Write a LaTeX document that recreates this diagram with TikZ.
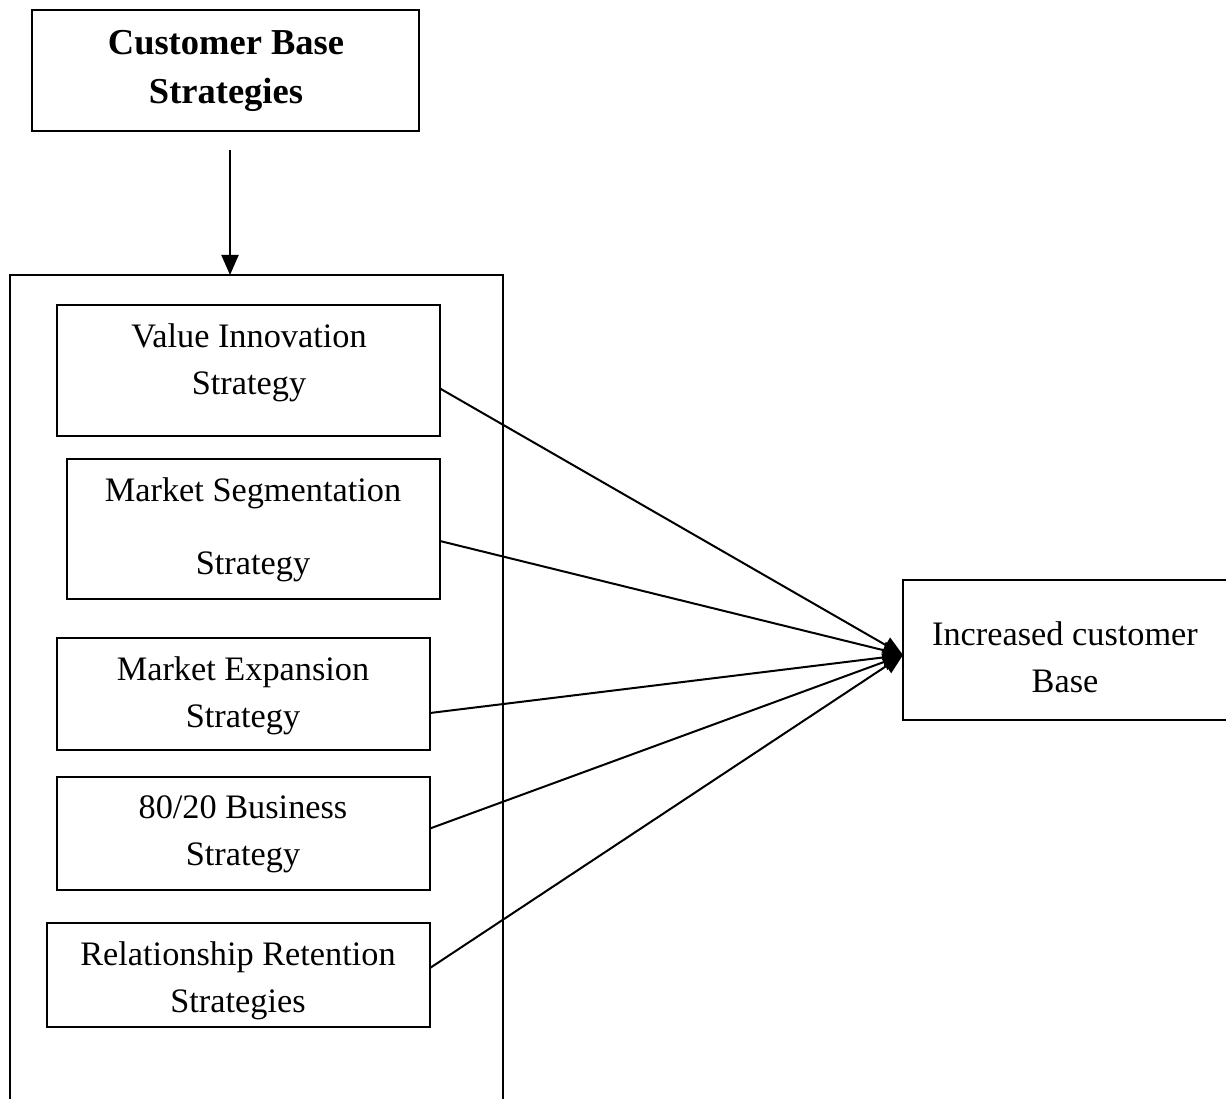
\documentclass[tikz,border=0pt]{standalone}
\usepackage{fontspec}
\setmainfont{Liberation Serif}
\usetikzlibrary{arrows.meta,calc}
\begin{document}
\begin{tikzpicture}[x=1pt,y=-1pt,
  line width=2pt,
  box/.style={draw,inner sep=0pt,outer sep=0pt,anchor=north west},
  open/.style={inner sep=0pt,outer sep=0pt,anchor=north west},
  txt/.style={align=center,inner sep=0pt,font=\fontsize{34.3}{47}\selectfont},
  btxt/.style={align=center,inner sep=0pt,font=\fontsize{36.5}{49}\selectfont\bfseries},
  arr/.style={-{Triangle[length=20pt,width=17pt]}}]
\useasboundingbox (0,0) rectangle (1226,1099);
% top box
\node[box,minimum width=387pt,minimum height=121pt] (top) at (32,10) {};
\node[btxt] (toptxt) at (226,71) {Customer Base\\Strategies};
% container (open at bottom)
\node[open,minimum width=493pt,minimum height=830pt] (cont) at (10,275) {};
\draw (cont.south west) -- (cont.north west) -- (cont.north east) -- (cont.south east);
\coordinate (astart) at ($(top.south)+(4.5,19)$);
\draw[arr] (astart) -- (astart |- cont.north);
% inner boxes
\node[box,minimum width=383pt,minimum height=131pt] (b1) at (57,305) {};
\node[txt] (t1) at (249,362.5) {Value Innovation\\Strategy};
\node[box,minimum width=373pt,minimum height=140pt] (b2) at (67,459) {};
\node[txt,font=\fontsize{34.3}{73}\selectfont] (t2) at (253,529.5) {Market Segmentation\\Strategy};
\node[box,minimum width=373pt,minimum height=112pt] (b3) at (57,638) {};
\node[txt] (t3) at (243,696) {Market Expansion\\Strategy};
\node[box,minimum width=373pt,minimum height=113pt] (b4) at (57,777) {};
\node[txt] (t4) at (243,834) {80/20 Business\\Strategy};
\node[box,minimum width=383pt,minimum height=104pt] (b5) at (47,923) {};
\node[txt] (t5) at (238,981) {Relationship Retention\\Strategies};
% target box (open on right)
\node[open,minimum width=340pt,minimum height=140pt] (tgt) at (903,580) {};
\draw (tgt.north east) -- (tgt.north west) -- (tgt.south west) -- (tgt.south east);
\node[txt] (tt) at (1065,657) {Increased customer\\Base};
% connectors
\coordinate (tip) at ($(tgt.west)+(0,5)$);
\draw[arr] ($(b1.east)+(0,18)$) -- (tip);
\draw[arr] ($(b2.east)+(0,12)$) -- (tip);
\draw[arr] ($(b3.east)+(0,19)$) -- (tip);
\draw[arr] ($(b4.east)+(0,-5)$) -- (tip);
\draw[arr] ($(b5.east)+(0,-7)$) -- (tip);
\end{tikzpicture}
\end{document}
